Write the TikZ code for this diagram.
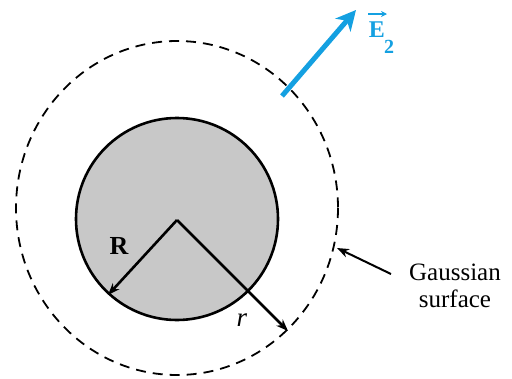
\documentclass[tikz,border=0pt]{standalone}
\usepackage{fontspec}
\setmainfont{Liberation Serif}
\usetikzlibrary{arrows.meta}
\definecolor{eblue}{RGB}{20,160,225}
\definecolor{fillgray}{RGB}{200,200,200}
\tikzset{
  lbl/.style={font=\fontsize{25}{27}\selectfont, inner sep=0pt},
  radius arrow/.style={line width=2.6pt, -{Stealth[length=12pt,width=9pt]}},
}
\begin{document}
\begin{tikzpicture}[x=1pt,y=-1pt]
\useasboundingbox (0,0) rectangle (512,378);
% Gaussian surface
\draw[line width=1.8pt, dash pattern=on 10pt off 7pt] (177,208) ellipse[x radius=161, y radius=167];
% charged sphere
\draw[line width=2.6pt, fill=fillgray] (177,219) circle[radius=101];
\coordinate (c) at (177,220);
\coordinate (Rend) at (108,295);
\coordinate (rend) at (288,331);
\draw[radius arrow] (c) -- (Rend);
\draw[radius arrow] (c) -- (rend);
\node[lbl, font=\fontsize{26}{28}\selectfont\bfseries] (Rl) at (119,246) {R};
\node[lbl, font=\fontsize{27}{29}\selectfont\itshape] (rl) at (242,320) {r};
% E field arrow
\coordinate (e0) at (282,96);
\coordinate (e1) at (356,10);
\draw[eblue, line width=5pt, -{Stealth[length=20pt,width=20pt,inset=6pt]}] (e0) -- (e1);
\node[lbl, text=eblue, font=\fontsize{24}{26}\selectfont\bfseries] (E) at (377,30) {E};
\node[lbl, text=eblue, font=\fontsize{20}{22}\selectfont\bfseries] (E2) at (389,47) {2};
\draw[eblue, line width=1.8pt, -{Stealth[length=6pt,width=6pt]}] (368,14) -- (387,14);
% label
\node[lbl, align=center] (gs) at (455,286) {Gaussian\\surface};
\coordinate (gp) at (337,248);
\draw[line width=2pt, -{Stealth[length=12pt,width=9pt]}] (391,274) -- (gp);
\end{tikzpicture}
\end{document}
